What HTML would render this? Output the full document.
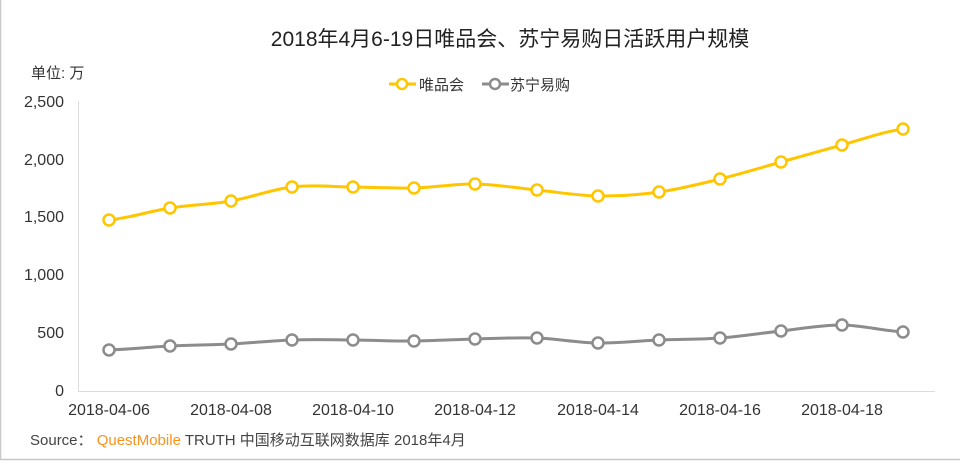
<!DOCTYPE html>
<html><head><meta charset="utf-8"><style>
html,body{margin:0;padding:0;background:#fff;}
svg text{font-family:"Liberation Sans","Noto Sans CJK SC",sans-serif;}
</style></head><body>
<svg width="960" height="462" viewBox="0 0 960 462" xmlns="http://www.w3.org/2000/svg">
<rect x="0.5" y="-5" width="980" height="464.5" fill="#fff" stroke="#c8c8c8" stroke-width="1.5"/>
<text x="510" y="46" font-size="21" fill="#222" text-anchor="middle">2018年4月6-19日唯品会、苏宁易购日活跃用户规模</text>
<text x="31" y="78" font-size="15" fill="#333">单位: 万</text>
<g stroke-width="3">
<line x1="389" y1="84" x2="416" y2="84" stroke="#FFC600"/><circle cx="402" cy="84" r="5" fill="#fff" stroke="#FFC600" stroke-width="2.5"/>
<line x1="482" y1="84" x2="509" y2="84" stroke="#8c8c8c"/><circle cx="495" cy="84" r="5" fill="#fff" stroke="#8c8c8c" stroke-width="2.5"/>
</g>
<text x="419" y="90" font-size="15" fill="#333">唯品会</text>
<text x="510" y="90" font-size="15" fill="#333">苏宁易购</text>
<line x1="78.5" y1="101" x2="78.5" y2="391" stroke="#ddd"/>
<line x1="78" y1="391.5" x2="935" y2="391.5" stroke="#ddd"/>
<g font-size="16" fill="#333" text-anchor="end">
<text x="64" y="107">2,500</text><text x="64" y="165">2,000</text><text x="64" y="222">1,500</text>
<text x="64" y="280">1,000</text><text x="64" y="338">500</text><text x="64" y="396">0</text>
</g>
<g font-size="16" fill="#333" text-anchor="middle">
<text x="109" y="415">2018-04-06</text><text x="231" y="415">2018-04-08</text><text x="353" y="415">2018-04-10</text>
<text x="475" y="415">2018-04-12</text><text x="598" y="415">2018-04-14</text><text x="720" y="415">2018-04-16</text><text x="842" y="415">2018-04-18</text>
</g>
<path fill="none" stroke="#FFC600" stroke-width="3" d="M109,220 C129,218 150,211.2 170,208 C190,204.8 211,204.5 231,201 C251,197.5 272,189.3 292,187 C312,184.7 333,186.8 353,187 C373,187.2 394,188.5 414,188 C434,187.5 455,183.7 475,184 C495,184.3 517,188 537,190 C557,192 578,195.7 598,196 C618,196.3 639,194.8 659,192 C679,189.2 700,184 720,179 C740,174 761,167.7 781,162 C801,156.3 822,150.5 842,145 C862,139.5 883,131.7 903,129"/>
<path fill="none" stroke="#8c8c8c" stroke-width="3" d="M109,350 C129,349.3 150,347 170,346 C190,345 211,345 231,344 C251,343 272,340.7 292,340 C312,339.3 333,339.8 353,340 C373,340.2 394,341.2 414,341 C434,340.8 455,339.5 475,339 C495,338.5 517,337.3 537,338 C557,338.7 578,342.7 598,343 C618,343.3 639,340.8 659,340 C679,339.2 700,339.5 720,338 C740,336.5 761,333.2 781,331 C801,328.8 822,324.8 842,325 C862,325.2 883,330.8 903,332"/>
<g fill="#fff" stroke="#FFC600" stroke-width="2.5">
<circle cx="109" cy="220" r="5.5"/><circle cx="170" cy="208" r="5.5"/><circle cx="231" cy="201" r="5.5"/><circle cx="292" cy="187" r="5.5"/><circle cx="353" cy="187" r="5.5"/><circle cx="414" cy="188" r="5.5"/><circle cx="475" cy="184" r="5.5"/><circle cx="537" cy="190" r="5.5"/><circle cx="598" cy="196" r="5.5"/><circle cx="659" cy="192" r="5.5"/><circle cx="720" cy="179" r="5.5"/><circle cx="781" cy="162" r="5.5"/><circle cx="842" cy="145" r="5.5"/><circle cx="903" cy="129" r="5.5"/>
</g>
<g fill="#fff" stroke="#8c8c8c" stroke-width="2.5">
<circle cx="109" cy="350" r="5.5"/><circle cx="170" cy="346" r="5.5"/><circle cx="231" cy="344" r="5.5"/><circle cx="292" cy="340" r="5.5"/><circle cx="353" cy="340" r="5.5"/><circle cx="414" cy="341" r="5.5"/><circle cx="475" cy="339" r="5.5"/><circle cx="537" cy="338" r="5.5"/><circle cx="598" cy="343" r="5.5"/><circle cx="659" cy="340" r="5.5"/><circle cx="720" cy="338" r="5.5"/><circle cx="781" cy="331" r="5.5"/><circle cx="842" cy="325" r="5.5"/><circle cx="903" cy="332" r="5.5"/>
</g>
<text x="30" y="445" font-size="15" fill="#444">Source： <tspan fill="#F7931E">QuestMobile</tspan> TRUTH 中国移动互联网数据库 2018年4月</text>
</svg>
</body></html>
